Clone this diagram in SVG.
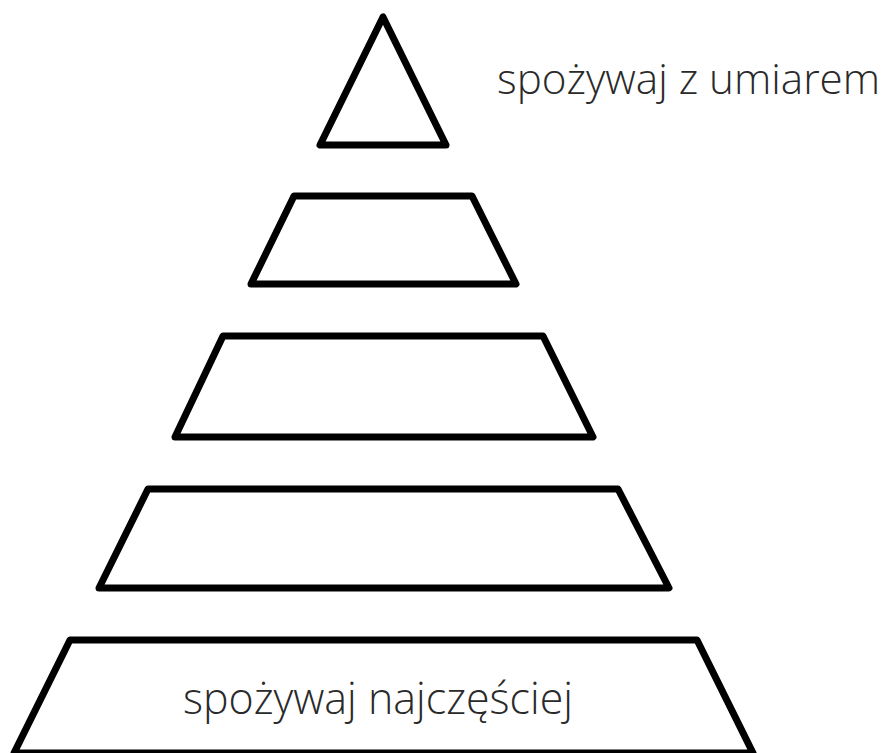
<svg xmlns="http://www.w3.org/2000/svg" width="888" height="753" viewBox="0 0 888 753">
<style>
.lvl{fill:#fff;stroke:#000;stroke-width:7;stroke-linejoin:round}
.lbl{font-family:"Open Sans","Liberation Sans",sans-serif;font-weight:300;fill:#2a2a2a}
</style>
<rect width="888" height="753" fill="#fff"/>
<g id="level1"><polygon class="lvl" points="383,17 320,145 446,145"/></g>
<g id="level2"><polygon class="lvl" points="294,196 472,196 516,284 251,284"/></g>
<g id="level3"><polygon class="lvl" points="223,336 543,336 593,437 175,437"/></g>
<g id="level4"><polygon class="lvl" points="148,489 618,489 669,588 99,588"/></g>
<g id="level5"><polygon class="lvl" points="70,640 697,640 753,753 14,753"/></g>
<g id="labels">
<text class="lbl" x="497" y="94" font-size="42" textLength="383" lengthAdjust="spacingAndGlyphs">spożywaj z umiarem</text>
<text class="lbl" x="183" y="714" font-size="45" textLength="390" lengthAdjust="spacingAndGlyphs">spożywaj najczęściej</text>
</g>
<g id="connectors"></g>
</svg>
